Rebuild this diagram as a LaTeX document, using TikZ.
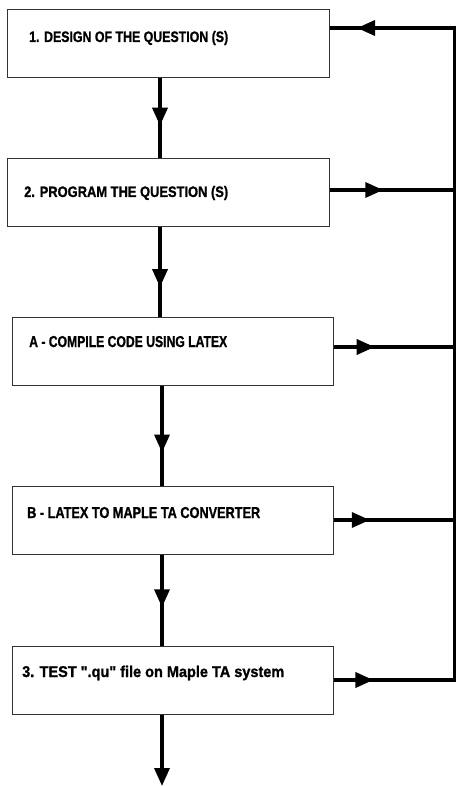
\documentclass[tikz,border=0pt]{standalone}
\usepackage{graphicx}
\usepackage{fontspec}
\setmainfont{Liberation Sans}
\newfontfamily\heavyfont[FakeBold=1.2]{Liberation Sans}
\usetikzlibrary{arrows.meta,decorations.markings}
\begin{document}
\begin{tikzpicture}[x=1pt,y=-1pt,
  box/.style={draw=black!80, line width=1pt, minimum height=68pt, inner sep=0pt},
  lbl/.style={anchor=base west, inner sep=0pt, font=\heavyfont\bfseries\fontsize{15}{15}\selectfont},
  conn/.style={line width=3.5pt},
  midarrow/.style={decoration={markings, mark=at position #1 with {\arrow{Triangle[length=18pt,width=15pt]}}}, postaction={decorate}},
  tipend/.style={-{Triangle[length=18pt,width=15pt]}}
]
\fill[white] (0,0) rectangle (456,786);
\useasboundingbox (0,0) rectangle (456,786);

% boxes
\node[box, minimum width=322pt] (b1) at (168,44) {};
\node[box, minimum width=322pt] (b2) at (168,193) {};
\node[box, minimum width=321pt] (bA) at (172.5,351) {};
\node[box, minimum width=321pt] (bB) at (172.5,520) {};
\node[box, minimum width=321pt] (b3) at (172.5,680) {};

% labels
\node[lbl] (t1) at (29,42) {\resizebox{199pt}{11pt}{1. DESIGN OF THE QUESTION (S)}};
\node[lbl] (t2) at (24,197) {\resizebox{204pt}{11pt}{2. PROGRAM THE QUESTION (S)}};
\node[lbl] (tA) at (29,347) {\resizebox{198pt}{11pt}{A - COMPILE CODE USING LATEX}};
\node[lbl] (tB) at (27,518) {\resizebox{233pt}{11pt}{B - LATEX TO MAPLE TA CONVERTER}};
\node[lbl] (t3) at (22,677) {\resizebox{262pt}{11.3pt}{3. TEST \symbol{"22}.qu\symbol{"22} file on Maple TA system}};

% coordinates
\coordinate (v1) at (160,0);
\coordinate (v3) at (162,0);
\coordinate (r1) at (454.5,28);
\coordinate (r2) at (454.5,190);
\coordinate (rA) at (454.5,347);
\coordinate (rB) at (454.5,520);
\coordinate (r3) at (454.5,680);
\coordinate (fin) at (162,786);

% vertical flow
\draw[conn, midarrow=0.59] (b1.south -| v1) -- (b2.north -| v1);
\draw[conn, midarrow=0.67] (b2.south -| v1) -- (bA.north -| v1);
\draw[conn, midarrow=0.67] (bA.south -| v3) -- (bB.north -| v3);
\draw[conn, midarrow=0.58] (bB.south -| v3) -- (b3.north -| v3);
\draw[conn, tipend] (b3.south -| v3) -- (fin);

% feedback rail
\draw[conn, line cap=rect] (r1) -- (r3);
\draw[conn, midarrow=0.78] (r1) -- (b1.east |- r1);
\draw[conn, midarrow=0.43] (b2.east |- r2) -- (r2);
\draw[conn, midarrow=0.34] (bA.east |- rA) -- (rA);
\draw[conn, midarrow=0.30] (bB.east |- rB) -- (rB);
\draw[conn, midarrow=0.33] (b3.east |- r3) -- (r3);
\end{tikzpicture}
\end{document}
